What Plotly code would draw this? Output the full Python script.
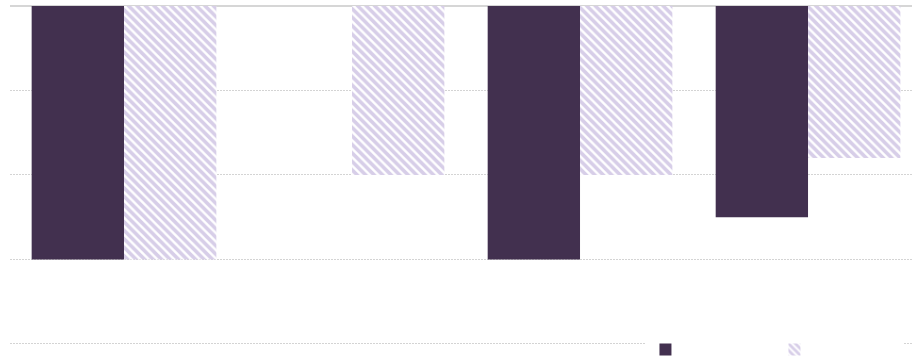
import plotly.graph_objects as go

# Four groups, two series; values grow downward from the top baseline
categories = ["A", "B", "C", "D"]
series_solid = [3.0, 0.0, 3.0, 2.5]
series_hatched = [3.0, 2.0, 2.0, 1.8]

DARK = "#42304f"
LIGHT = "#b09dd2"

fig = go.Figure()
fig.add_trace(go.Bar(
    x=categories, y=series_solid, name="",
    marker=dict(color=DARK, line=dict(width=0)),
    hoverinfo="y",
))
fig.add_trace(go.Bar(
    x=categories, y=series_hatched, name="",
    marker=dict(
        color="white",
        line=dict(width=0),
        pattern=dict(shape="\\", fgcolor=LIGHT, bgcolor="white",
                     size=6, solidity=0.6, fillmode="overlay"),
    ),
    hoverinfo="y",
))

fig.update_layout(
    width=912, height=363,
    margin=dict(l=10, r=0, t=6, b=0, autoexpand=False),
    paper_bgcolor="white", plot_bgcolor="white",
    barmode="group", bargap=0.19, bargroupgap=0,
    showlegend=True,
    legend=dict(
        orientation="h", x=0.7045, xanchor="left", y=0.0378, yanchor="middle",
        bgcolor="white", entrywidth=84, entrywidthmode="pixels",
        font=dict(family="Open Sans", size=12, color="#333"),
        itemclick=False, itemdoubleclick=False,
    ),
    xaxis=dict(
        type="category", range=[-0.5, 3.456],
        showticklabels=False, showgrid=False, zeroline=False, ticks="",
    ),
    yaxis=dict(
        range=[4.225, 0], dtick=1, showticklabels=False, ticks="",
        showgrid=True, gridcolor="#d4d4d4", griddash="2px,1px", gridwidth=1,
        zeroline=True, zerolinecolor="#d6d6d6", zerolinewidth=2,
    ),
)

fig.write_html("out.html")
